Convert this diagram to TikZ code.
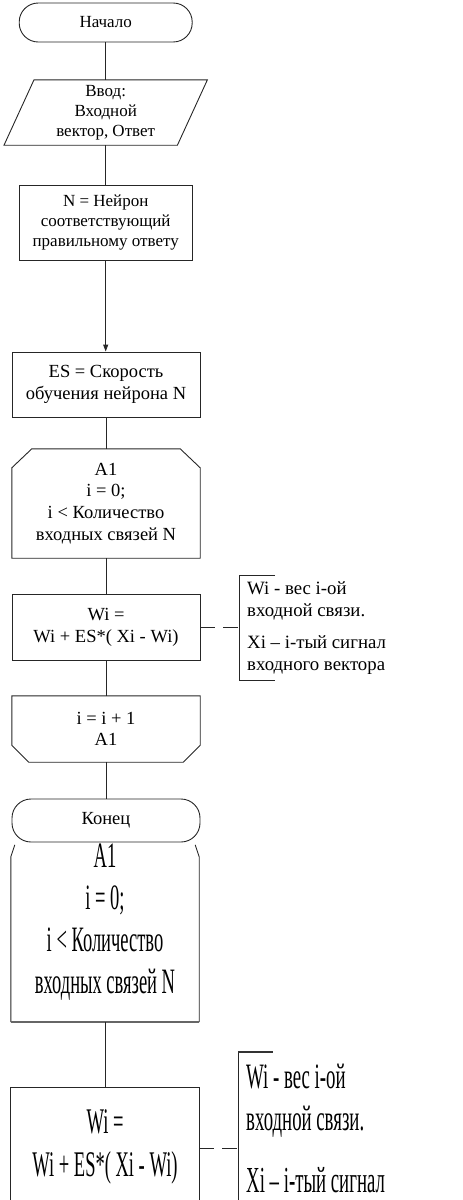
\documentclass[tikz,border=0pt]{standalone}
\usepackage{fontspec}
\usepackage{graphicx}
\setmainfont{Liberation Serif}
\usetikzlibrary{calc,arrows.meta}
\begin{document}
\begin{tikzpicture}[x=1pt,y=-1pt,
  every node/.style={font=\fontsize{18.5}{21.7}\selectfont, inner sep=0pt, align=center},
  smallfont/.style={font=\fontsize{17}{20}\selectfont},
  notefont/.style={font=\fontsize{18.8}{22}\selectfont},
  line/.style={line width=0.9pt, black!85},
  box/.style={draw=black!85, line width=0.9pt, minimum width=188pt},
  term/.style={draw=black!85, line width=0.9pt, rounded corners=19pt},
  helper/.style={minimum width=188pt},
  dashlink/.style={line width=0.9pt, black!85, dash pattern=on 15pt off 8pt}]
\useasboundingbox (0,0) rectangle (463,1200);

% ---------- main flowchart ----------
\node[term, smallfont, minimum width=173pt, minimum height=39pt] (start) at (105.7,22.5) {Начало};

\node[smallfont, minimum width=173pt, minimum height=65pt] (inp) at (105.7,112.5) {Ввод:\\Входной\\вектор, Ответ};
\draw[line] ($(inp.north west)+(15,0)$) -- ($(inp.north east)+(15,0)$) -- ($(inp.south east)+(-15,0)$) -- ($(inp.south west)+(-15,0)$) -- cycle;

\node[box, smallfont, minimum width=173pt, minimum height=75pt] (nn) at (105.7,222.5) {N = Нейрон\\соответствующий\\правильному ответу};

\node[box, minimum height=65pt] (es) at (106,384.5) {ES = Скорость\\обучения нейрона N};

\node[helper, minimum height=109pt] (a1) at (106,503.5) {A1\\i = 0;\\i < Количество\\входных связей N};
\draw[line] (a1.south west) -- ($(a1.north west)+(0,19)$) -- ($(a1.north west)+(20,0)$) -- ($(a1.north east)+(-20,0)$) -- ($(a1.north east)+(0,19)$) -- (a1.south east) -- cycle;

\node[box, minimum height=66pt] (wi) at (106,627) {Wi =\\Wi + ES*( Xi - Wi)};

\node[helper, minimum height=66pt] (a1e) at (106,729) {i = i + 1\\A1};
\draw[line] (a1e.north west) -- (a1e.north east) -- ($(a1e.south east)+(0,-17)$) -- ($(a1e.south east)+(-17,0)$) -- ($(a1e.south west)+(17,0)$) -- ($(a1e.south west)+(0,-17)$) -- cycle;

\node[term, minimum width=188pt, minimum height=43pt] (end) at (106,820.5) {Конец};

\draw[line] (start) -- (inp);
\draw[line] (inp) -- (nn);
\draw[line, -{Triangle[length=7pt,width=5pt]}] (nn.south) -- (nn.south |- es.north);
\draw[line] (es) -- (a1);
\draw[line] (a1) -- (wi);
\draw[line] (wi) -- (a1e);
\draw[line] (a1e) -- (end);

% comment
\node[notefont, anchor=west, align=left] (n1) at (247,601) {Wi - вес i-ой\\входной связи.};
\node[notefont, anchor=west, align=left] (n2) at (247,655.5) {Xi – i-тый сигнал\\входного вектора};
\coordinate (br) at (239,627);
\draw[dashlink] (wi.east) -- (br);
\draw[line] (275,575) -- (239,575) -- (239,680) -- (275,680);

% ---------- stretched copy ----------
\node[helper, minimum height=177pt] (a1c) at (105,933.5) {};
\node (a1ct) at (105,922) {\scalebox{1}[1.93]{\begin{tabular}{@{}c@{}}A1\\i = 0;\\i < Количество\\входных связей N\end{tabular}}};
\draw[line] ($(a1c.north west)+(4,0)$) -- ($(a1c.north west)+(0,12)$) -- (a1c.south west);
\draw[line] ($(a1c.north east)+(-4,0)$) -- ($(a1c.north east)+(0,12)$) -- (a1c.south east);
\draw[line width=1.8pt, black!60] (a1c.south west) -- (a1c.south east);

\node[helper, minimum height=112pt] (wic) at (105,1144) {};
\node (wict) at (105,1146.5) {\scalebox{1}[1.95]{\begin{tabular}{@{}c@{}}Wi =\\Wi + ES*( Xi - Wi)\end{tabular}}};
\draw[line] (wic.south west) -- (wic.north west) -- (wic.north east) -- (wic.south east);
\draw[line] (a1c) -- (wic);

\node[notefont, anchor=west] (n1c) at (246,1101) {\scalebox{1}[1.9]{\begin{tabular}{@{}l@{}}Wi - вес i-ой\\входной связи.\end{tabular}}};
\node[notefont, anchor=west] (n2c) at (246,1180) {\scalebox{1}[1.95]{Xi – i-тый сигнал}};
\coordinate (brc) at (238,1148);
\draw[dashlink] (wic.east |- brc) -- (brc);
\draw[line] (238,1200) -- (238,1052);
\draw[line width=2.2pt, black!80] (238,1052) -- (273,1052);
\end{tikzpicture}
\end{document}
